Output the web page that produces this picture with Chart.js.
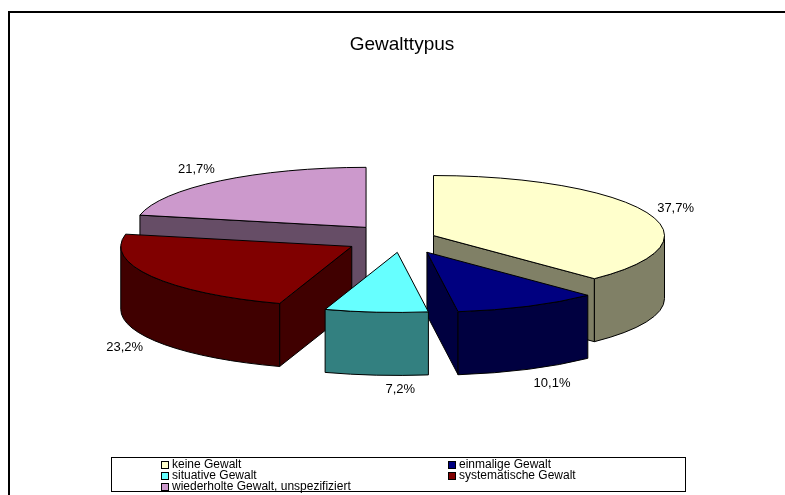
<!DOCTYPE html>
<html>
<head>
<meta charset="utf-8">
<script src="https://cdn.jsdelivr.net/npm/chart.js@4"></script>
<style>
  html, body { margin: 0; padding: 0; background: #fff; }
  #wrap { position: relative; width: 785px; height: 495px; }
</style>
</head>
<body>
<div id="wrap"><canvas id="canva" width="785" height="495"></canvas></div>
<script>
const categories = [
  "keine Gewalt",
  "einmalige Gewalt",
  "situative Gewalt",
  "systematische Gewalt",
  "wiederholte Gewalt, unspezifiziert",
];
const shares = [37.7, 10.1, 7.2, 23.2, 21.7];
const topColors = ["#FFFFCC", "#000080", "#66FFFF", "#800000", "#CC99CC"];
const sideColors = ["#808066", "#000040", "#338080", "#400000", "#664D66"];
const explode = [34, 57, 52, 58, 57];

// pie is tilted: y is squashed by tilt, wall is depth px tall
const tilt = 0.26;
const depth = 63;
const paintOrder = [4, 0, 3, 1, 2];
const labelShift = [[28, -5], [24, 14], [24, 14], [-27, 8], [-24, -11]];

function traceTop(ctx, cy, arc, ox, oy) {
  ctx.save();
  ctx.translate(0, cy);
  ctx.scale(1, tilt);
  ctx.translate(0, -cy);
  ctx.beginPath();
  ctx.moveTo(ox, oy);
  ctx.arc(ox, oy, arc.outerRadius, arc.startAngle, arc.endAngle);
  ctx.closePath();
  ctx.restore();
}

function traceWall(ctx, cy, arc, ox, oy, a, b) {
  ctx.save();
  ctx.translate(0, cy);
  ctx.scale(1, tilt);
  ctx.translate(0, -cy);
  ctx.beginPath();
  ctx.arc(ox, oy, arc.outerRadius, a, b);
  ctx.restore();
  ctx.save();
  ctx.translate(0, cy + depth);
  ctx.scale(1, tilt);
  ctx.translate(0, -cy);
  ctx.arc(ox, oy, arc.outerRadius, b, a, true);
  ctx.restore();
  ctx.closePath();
}

const pie3d = {
  id: "pie3d",
  beforeDatasetsDraw(chart) {
    const ctx = chart.ctx;
    const arcs = chart.getDatasetMeta(0).data;
    const cy = arcs[0].y;
    ctx.save();
    ctx.lineWidth = 1;
    ctx.strokeStyle = "#000";
    ctx.lineJoin = "round";
    paintOrder.forEach((i) => {
      const arc = arcs[i];
      const mid = (arc.startAngle + arc.endAngle) / 2;
      const ox = arc.x + explode[i] * Math.cos(mid);
      const oy = arc.y + explode[i] * Math.sin(mid);
      const R = arc.outerRadius;
      ctx.fillStyle = sideColors[i];

      // cut faces that look towards the viewer
      [[arc.startAngle, Math.cos(arc.startAngle) < -1e-6], [arc.endAngle, Math.cos(arc.endAngle) > 1e-6]].forEach(([ang, show]) => {
        if (!show) return;
        const sx = ox + R * Math.cos(ang);
        const sy = cy + (oy - cy + R * Math.sin(ang)) * tilt;
        const py = cy + (oy - cy) * tilt;
        ctx.beginPath();
        ctx.moveTo(ox, py);
        ctx.lineTo(sx, sy);
        ctx.lineTo(sx, sy + depth);
        ctx.lineTo(ox, py + depth);
        ctx.closePath();
        ctx.fill();
        ctx.stroke();
      });

      // outer wall, front half of the rim only
      const a = Math.max(arc.startAngle, 0);
      const b = Math.min(arc.endAngle, Math.PI);
      if (b > a) {
        traceWall(ctx, cy, arc, ox, oy, a, b);
        ctx.fill();
        ctx.stroke();
      }

      traceTop(ctx, cy, arc, ox, oy);
      ctx.fillStyle = topColors[i];
      ctx.fill();
      ctx.stroke();
    });
    ctx.restore();
    return false;
  },
  afterDraw(chart) {
    const ctx = chart.ctx;
    const arcs = chart.getDatasetMeta(0).data;
    const cy = arcs[0].y;
    ctx.save();
    ctx.font = '13px "Liberation Sans"';
    ctx.fillStyle = "#000";
    ctx.textAlign = "center";
    ctx.textBaseline = "middle";
    arcs.forEach((arc, i) => {
      const mid = (arc.startAngle + arc.endAngle) / 2;
      const r = explode[i] + arc.outerRadius;
      const x = arc.x + r * Math.cos(mid);
      let y = cy + (arc.y - cy + r * Math.sin(mid)) * tilt;
      if (Math.sin(mid) > 0) y += depth;
      const text = shares[i].toFixed(1).replace(".", ",") + "%";
      ctx.fillText(text, x + labelShift[i][0], y + labelShift[i][1]);
    });
    ctx.restore();
  },
};

const frameAndLegend = {
  id: "frameAndLegend",
  afterDraw(chart) {
    const ctx = chart.ctx;
    ctx.save();
    ctx.strokeStyle = "#000";
    ctx.lineWidth = 2;
    ctx.beginPath();
    ctx.moveTo(9, 495);
    ctx.lineTo(9, 12);
    ctx.lineTo(785, 12);
    ctx.stroke();
    ctx.lineWidth = 1;
    ctx.fillStyle = "#fff";
    ctx.fillRect(111.5, 457.5, 574, 34);
    ctx.strokeRect(111.5, 457.5, 574, 34);
    ctx.font = '12px "Liberation Sans"';
    ctx.textBaseline = "middle";
    categories.forEach((name, i) => {
      const x = i % 2 ? 448 : 161;
      const y = 465 + Math.floor(i / 2) * 11;
      ctx.fillStyle = topColors[i];
      ctx.fillRect(x + 0.5, y - 3.5, 7, 7);
      ctx.strokeRect(x + 0.5, y - 3.5, 7, 7);
      ctx.fillStyle = "#000";
      ctx.fillText(name, x + 11, y);
    });
    ctx.restore();
  },
};

new Chart(document.getElementById("canva"), {
  type: "pie",
  data: {
    labels: categories,
    datasets: [{ data: shares, backgroundColor: topColors, radius: 231 }],
  },
  options: {
    responsive: false,
    animation: false,
    layout: { padding: { left: 19, bottom: 73 } },
    plugins: {
      legend: { display: false },
      tooltip: { enabled: false },
      title: {
        display: true,
        text: "Gewalttypus",
        color: "#000",
        font: { family: "Liberation Sans", size: 19, weight: "normal" },
        padding: { top: 33, bottom: 0 },
      },
    },
  },
  plugins: [pie3d, frameAndLegend],
});
</script>
</body>
</html>
